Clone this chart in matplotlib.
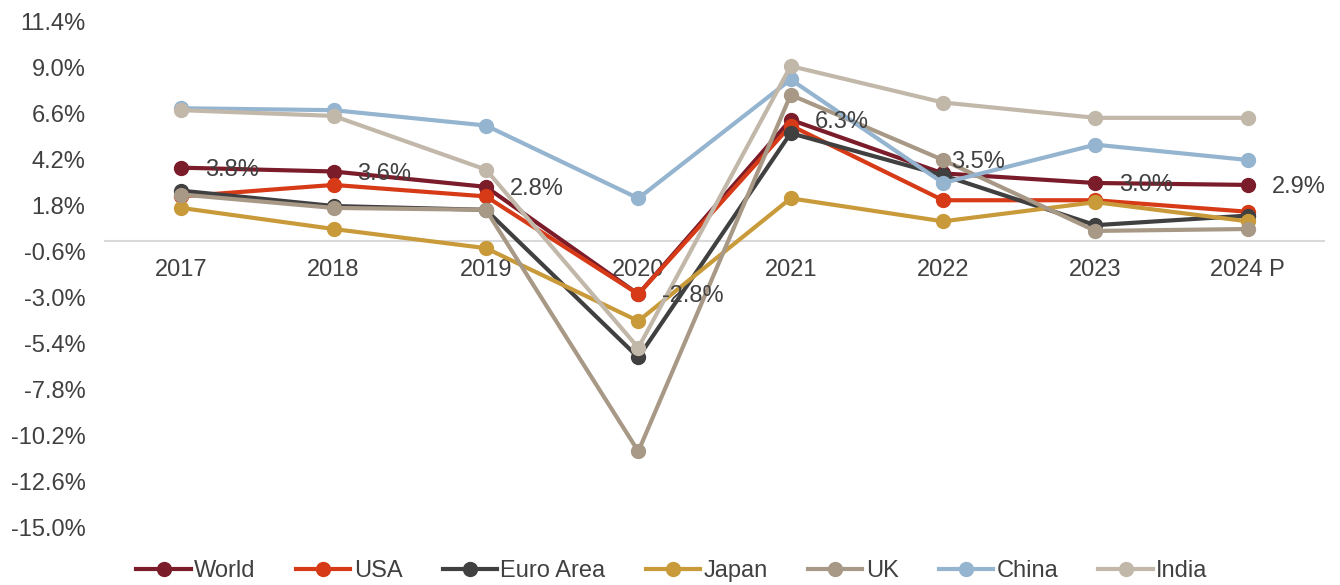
import matplotlib
matplotlib.use("Agg")
import matplotlib.pyplot as plt
import numpy as np

plt.rcParams['font.family'] = ['Liberation Sans', 'DejaVu Sans']

# 데이터 - 그림에서 읽은 값 (%)
years = ["2017", "2018", "2019", "2020", "2021", "2022", "2023", "2024 P"]
world = [3.8, 3.6, 2.8, -2.8, 6.3, 3.5, 3.0, 2.9]
usa = [2.3, 2.9, 2.3, -2.8, 6.0, 2.1, 2.1, 1.5]
euro = [2.6, 1.8, 1.6, -6.1, 5.6, 3.4, 0.8, 1.3]
japan = [1.7, 0.6, -0.4, -4.2, 2.2, 1.0, 2.0, 1.0]
uk = [2.4, 1.7, 1.6, -11.0, 7.6, 4.2, 0.5, 0.6]
china = [6.9, 6.8, 6.0, 2.2, 8.4, 3.0, 5.0, 4.2]
india = [6.8, 6.5, 3.7, -5.6, 9.1, 7.2, 6.4, 6.4]

series_names = ["World", "USA", "Euro Area", "Japan", "UK", "China", "India"]
series_vals = [world, usa, euro, japan, uk, china, india]
colors = ["#7B1C2A", "#D63A17", "#404040", "#C99A3A", "#A89886", "#94B4D0", "#C2B8AA"]

yticks = [11.4, 9.0, 6.6, 4.2, 1.8, -0.6, -3.0, -5.4, -7.8, -10.2, -12.6, -15.0]

fig = plt.figure(figsize=(13.4, 5.85), dpi=100)
ax = fig.add_axes([105/1340, 57/585, 1219/1340, 506/585])

# 축 선을 0 위치로 (라벨 설정 전에 해야 폰트 크기가 유지됨)
for s in ['top', 'right', 'left']:
    ax.spines[s].set_visible(False)
ax.spines['bottom'].set_position(('data', 0))
ax.spines['bottom'].set_color('#D9D9D9')
ax.spines['bottom'].set_linewidth(1.5)
ax.spines['bottom'].set_zorder(0)

x = np.arange(len(years))
for name, vals, c in zip(series_names, series_vals, colors):
    ax.plot(x, vals, color=c, lw=3, marker='o', markersize=10, label=name,
            solid_joinstyle='round')

# World 라벨
txtc = "#404040"
for i, v in enumerate(world):
    dx, dy = 17, -1.5
    if i == 5:
        dx, dy = 6, 8
    ax.annotate(f"{v:.1f}%", (x[i], v), xytext=(dx, dy), textcoords='offset points',
                ha='left', va='center', fontsize=17, color=txtc)

ax.set_xlim(-0.5, len(years) - 0.5)
ax.set_ylim(-15.0, 11.4)
ax.set_yticks(yticks)
ax.set_yticklabels([f"{t:.1f}%" for t in yticks], fontsize=17, color=txtc)
ax.set_xticks(x)
ax.set_xticklabels(years, fontsize=17, color=txtc)
ax.tick_params(axis='x', length=0, pad=13)
ax.tick_params(axis='y', length=0, pad=14)

fig.legend(loc='center', bbox_to_anchor=(0.5015, 0.024), ncol=7, frameon=False,
           fontsize=17, numpoints=1, handlelength=2.3, handletextpad=0.15,
           columnspacing=1.7, labelcolor=txtc)

fig.savefig("out.png", dpi=100)
